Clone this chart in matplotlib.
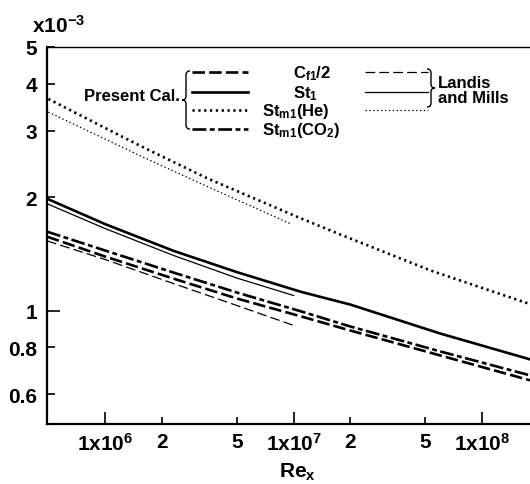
import numpy as np
import matplotlib.pyplot as plt
from matplotlib.lines import Line2D
from matplotlib.patches import PathPatch
from matplotlib.path import Path
from matplotlib.transforms import Affine2D
from matplotlib.ticker import FixedLocator, FixedFormatter, NullLocator

plt.rcParams['font.family'] = ['Liberation Sans', 'DejaVu Sans']
plt.rcParams['font.weight'] = 'bold'
plt.rcParams['mathtext.fontset'] = 'custom'
plt.rcParams['mathtext.rm'] = 'Liberation Sans:bold'
plt.rcParams['mathtext.it'] = 'Liberation Sans:bold'
plt.rcParams['mathtext.bf'] = 'Liberation Sans:bold'
plt.rcParams['lines.scale_dashes'] = False

# Reynolds numbers
re_cal = [4.9e5, 1e6, 2.3e6, 5e6, 1.1e7, 2e7, 6e7, 1.8e8]
re_he = [4.98e5, 1.54e6, 3.49e6, 1.05e7, 1.78e7, 5.36e7, 1.8e8]
re_lm = [4.9e5, 1e6, 2.3e6, 5e6, 1e7]
re_lm_he = [4.98e5, 1.54e6, 3.49e6, 9.6e6]

# present calculation (values x 1e-3)
cf_half = [1.57, 1.39, 1.215, 1.076, 0.964, 0.885, 0.760, 0.653]
st1 = [1.98, 1.694, 1.44, 1.264, 1.12, 1.037, 0.869, 0.742]
stm_he = [3.64, 2.73, 2.24, 1.77, 1.589, 1.276, 1.04]
stm_co2 = [1.619, 1.442, 1.261, 1.116, 0.994, 0.907, 0.779, 0.673]

# Landis and Mills
lm_cf_half = [1.53, 1.365, 1.179, 1.031, 0.913]
lm_st1 = [1.92, 1.649, 1.40, 1.219, 1.096]
lm_stm_he = [3.36, 2.57, 2.13, 1.70]

x_ticks = [1e6, 2e6, 5e6, 1e7, 2e7, 5e7, 1e8]
x_labels = [r'$\mathrm{1x10^6}$', '2', '5', r'$\mathrm{1x10^7}$', '2', '5', r'$\mathrm{1x10^8}$']
y_ticks = [0.6, 0.8, 1, 2, 3, 4, 5]
y_labels = ['0.6', '0.8', '1', '2', '3', '4', '5']

W, H = 530, 485
fig = plt.figure(figsize=(W / 100, H / 100), dpi=100)
ax = fig.add_axes([47 / W, 1 - 425 / H, 1 - 47 / W, (425 - 48) / H])
px = Affine2D().scale(1 / W, -1 / H).translate(0, 1) + fig.transFigure

thick, thin = 1.9, 0.9
sty_cf = dict(color='black', lw=thick, ls=(0, (9, 3)))
sty_st = dict(color='black', lw=thick, ls='-')
sty_he = dict(color='black', lw=thick, ls=(0, (1.6, 2.6)))
sty_co2 = dict(color='black', lw=thick, ls=(0, (10, 2.5, 3.5, 2.5)))
sty_lcf = dict(color='black', lw=thin, ls=(0, (7, 3)))
sty_lst = dict(color='black', lw=thin, ls='-')
sty_lhe = dict(color='black', lw=thin, ls=(0, (1.0, 1.8)))

ax.plot(re_cal, cf_half, **sty_cf)
ax.plot(re_cal, st1, **sty_st)
ax.plot(re_he, stm_he, **sty_he)
ax.plot(re_cal, stm_co2, **sty_co2)
ax.plot(re_lm, lm_cf_half, **sty_lcf)
ax.plot(re_lm, lm_st1, **sty_lst)
ax.plot(re_lm_he, lm_stm_he, **sty_lhe)

ax.set_xscale('log')
ax.set_yscale('log')
ax.set_xlim(4.9e5, 1.8e8)
ax.set_ylim(0.5, 5)

ax.xaxis.set_major_locator(FixedLocator(x_ticks))
ax.xaxis.set_major_formatter(FixedFormatter(x_labels))
ax.xaxis.set_minor_locator(NullLocator())
ax.yaxis.set_major_locator(FixedLocator(y_ticks))
ax.yaxis.set_major_formatter(FixedFormatter(y_labels))
ax.yaxis.set_minor_locator(NullLocator())
ax.tick_params(direction='in', labelsize=15, width=1.2, pad=6)
ax.tick_params(axis='y', pad=7)
for t, v in zip(ax.xaxis.get_major_ticks(), x_ticks):
    t.tick1line.set_markersize(9 if v in (1e6, 1e7, 1e8) else 5)
    t.tick2line.set_visible(False)
for t, v in zip(ax.yaxis.get_major_ticks(), y_ticks):
    t.tick1line.set_markersize(9 if v == 1 else 5.5)
    t.tick2line.set_visible(False)

for s in ['left', 'bottom']:
    ax.spines[s].set_linewidth(1.6)
ax.spines['top'].set_linewidth(1.0)
ax.spines['right'].set_visible(False)

fig.text(297, 478, r'$\mathrm{Re_x}$', transform=px, fontsize=15, ha='center', va='baseline')
fig.text(32, 33, r'$\mathrm{x10^{-3}}$', transform=px, fontsize=15, ha='left', va='baseline')

# legend drawn by hand
def brace(x, y0, y1, left=True, w=4):
    d = 1 if left else -1
    ym = (y0 + y1) / 2
    verts = [(x + d * w, y0), (x, y0), (x, y0 + w),
             (x, ym - w), (x, ym), (x - d * w, ym),
             (x, ym), (x, ym + w),
             (x, y1 - w), (x, y1), (x + d * w, y1)]
    codes = [Path.MOVETO, Path.CURVE3, Path.CURVE3,
             Path.LINETO, Path.CURVE3, Path.CURVE3,
             Path.CURVE3, Path.CURVE3,
             Path.LINETO, Path.CURVE3, Path.CURVE3]
    fig.add_artist(PathPatch(Path(verts, codes), transform=px, fill=False, lw=1.0, color='black'))

rows = [73, 93, 111, 130]
cal_styles = [sty_cf, sty_st, sty_he, sty_co2]
lm_styles = [sty_lcf, sty_lst, sty_lhe]
names = [r'$\mathrm{C_{f1}/2}$', r'$\mathrm{St_1}$', r'$\mathrm{St_{m1}(He)}$', r'$\mathrm{St_{m1}(CO_2)}$']
name_x = [293, 293, 262, 262]

for y, st, nm, nx in zip(rows, cal_styles, names, name_x):
    fig.add_artist(Line2D([192, 248], [y, y], transform=px, **st))
    fig.text(nx, y + 5, nm, transform=px, fontsize=12, ha='left', va='baseline')
for y, st in zip(rows, lm_styles):
    fig.add_artist(Line2D([365, 428], [y, y], transform=px, **st))

brace(186, 72, 130, left=True)
brace(431, 70, 108, left=False)
fig.text(180, 101, 'Present Cal.', transform=px, fontsize=12, ha='right', va='baseline')
fig.text(438, 88, 'Landis', transform=px, fontsize=12, ha='left', va='baseline')
fig.text(438, 103, 'and Mills', transform=px, fontsize=12, ha='left', va='baseline')

fig.savefig('out.png', dpi=100)
